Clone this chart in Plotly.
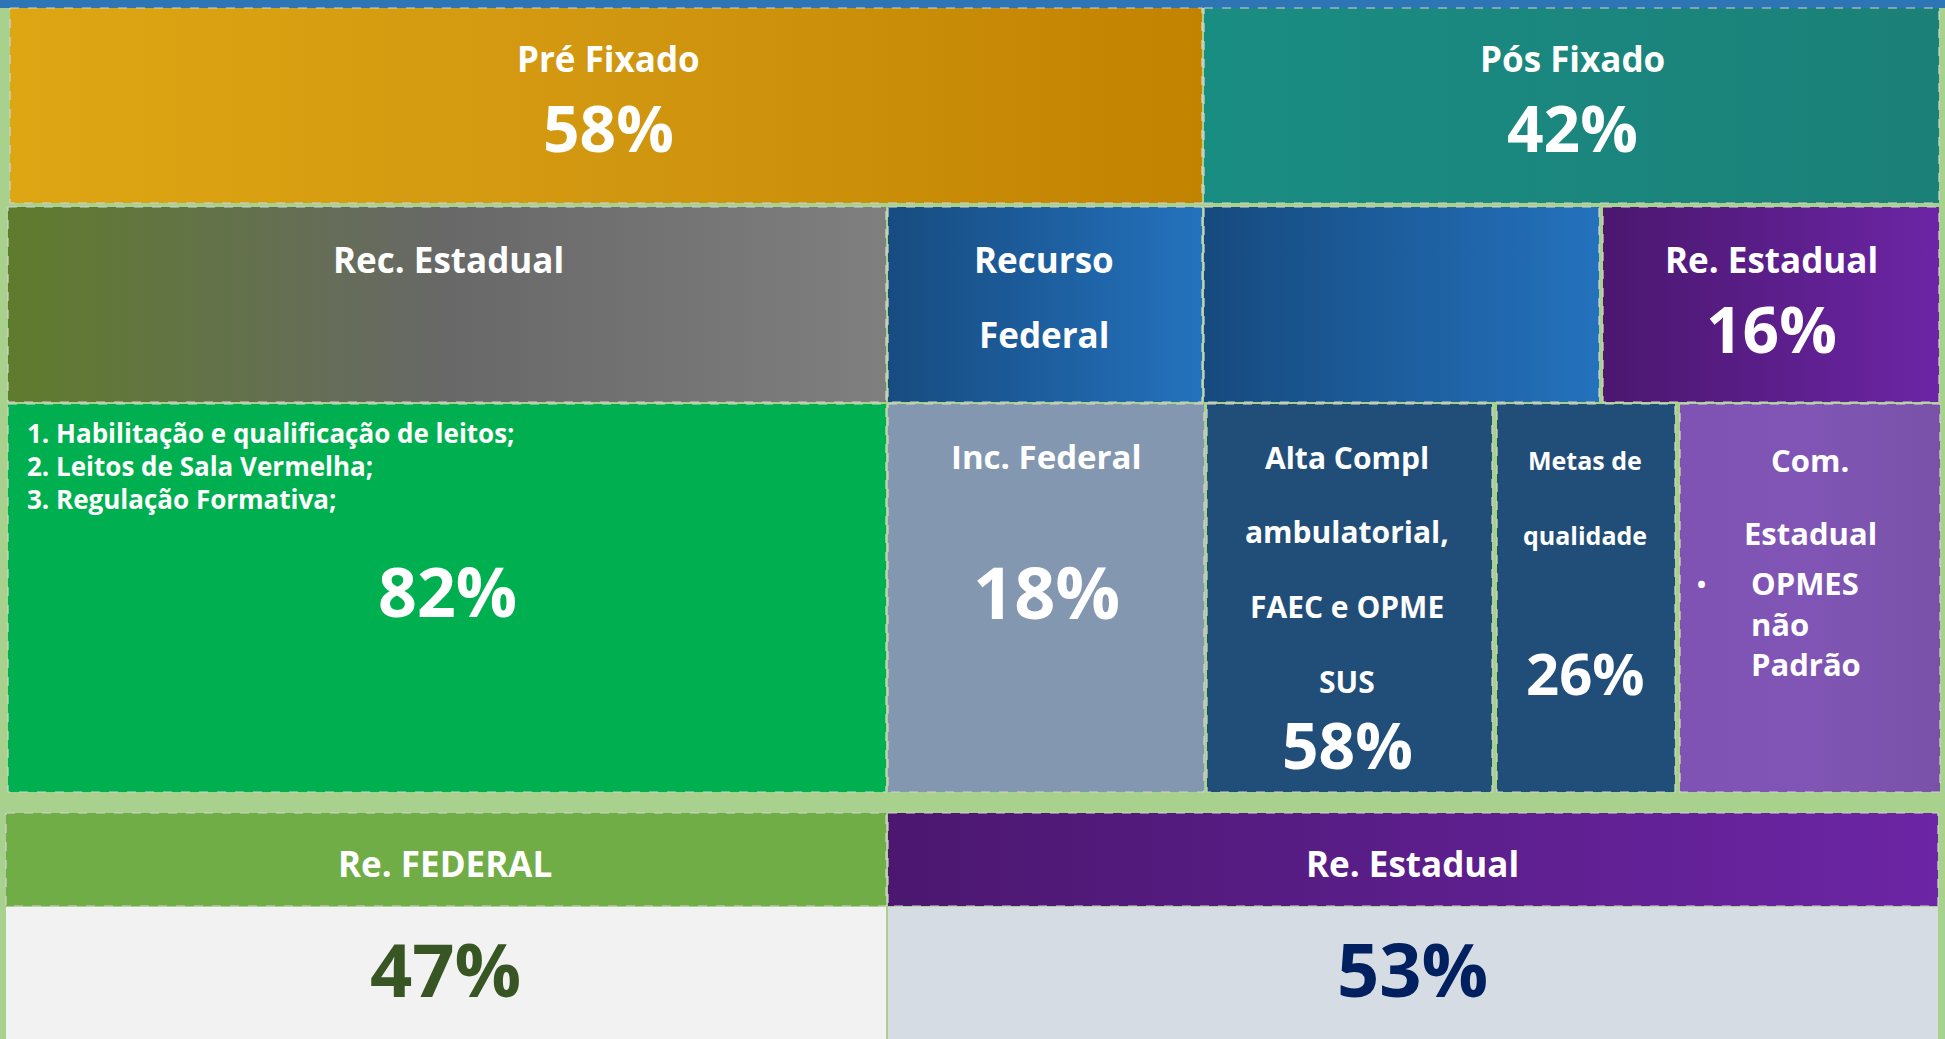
import plotly.graph_objects as go

# ---------------- data ----------------
top_labels = ["Pré Fixado", "Pós Fixado"]
top_values = ["58%", "42%"]

source_labels = ["Rec. Estadual", "Recurso\nFederal", "", "Re. Estadual"]
source_values = ["", "", "", "16%"]

detail_labels = ["", "Inc. Federal", "Alta Compl\nambulatorial,\nFAEC e OPME\nSUS",
                 "Metas de\nqualidade", "Com.\nEstadual"]
detail_values = ["82%", "18%", "58%", "26%", ""]

green_list = ["1. Habilitação e qualificação de leitos;",
              "2. Leitos de Sala Vermelha;",
              "3. Regulação Formativa;"]
opmes_item = ["OPMES", "não", "Padrão"]

summary_labels = ["Re. FEDERAL", "Re. Estadual"]
summary_values = ["47%", "53%"]

# ---------------- layout / style ----------------
W, H = 1945, 1039
FONT = "Open Sans"
BORDER = "#d4d4d4"

def hgrad(*cols):
    n = len(cols) - 1
    return dict(type="horizontal", colorscale=[[i / n, c] for i, c in enumerate(cols)])

# cell geometry: (x0, x1, y0, y1)
top_cells = [(10, 1202, 8, 203), (1204, 1939, 8, 203)]
top_fill = [hgrad("#dea613", "#d29710", "#c28300"), hgrad("#1a8d83", "#1b8078")]

src_cells = [(8, 886, 207, 402), (888, 1202, 207, 402), (1204, 1599, 207, 402), (1603, 1939, 207, 402)]
src_fill = [hgrad("#5f7b2c", "#686868", "#7f7f7f"),
            hgrad("#174c80", "#1d5e9e", "#2472bd"),
            hgrad("#164a7e", "#1d5e9e", "#2472bd"),
            hgrad("#4b176f", "#5b1e8a", "#6c25a5")]

det_cells = [(8, 886, 404, 792), (888, 1204, 404, 792), (1207, 1492, 404, 792),
             (1497, 1675, 404, 792), (1680, 1940, 404, 792)]
det_fill = ["#00b050", "#8497b0", "#214e78", "#214e78", hgrad("#7f53b3", "#8055b5", "#7952a8")]

sum_cells = [(6, 886, 813, 906), (888, 1938, 813, 906)]
sum_fill = ["#70ad47", hgrad("#4b176f", "#5b1e8a", "#6c25a5")]
body_cells = [(6, 886, 907, 1045), (888, 1938, 907, 1045)]
body_fill = ["#f2f2f2", "#d6dce4"]
body_text_color = ["#375623", "#002060"]

fig = go.Figure()

def add_box(cell, fill, dashed=True):
    x0, x1, y0, y1 = cell
    kw = dict(x=[x0, x1, x1, x0, x0], y=[y0, y0, y1, y1, y0], mode="lines",
              fill="toself", hoverinfo="skip", showlegend=False,
              line=dict(color=BORDER if dashed else "rgba(0,0,0,0)", width=1.2, dash="dash"))
    if isinstance(fill, dict):
        kw["fillgradient"] = fill
        kw["fillcolor"] = "rgba(0,0,0,0)"
    else:
        kw["fillcolor"] = fill
    fig.add_trace(go.Scatter(**kw))

# top blue strip
add_box((0, W, -2, 8), "#2e75b6", dashed=False)

for c, f in zip(top_cells, top_fill):
    add_box(c, f)
for c, f in zip(src_cells, src_fill):
    add_box(c, f)
for c, f in zip(det_cells, det_fill):
    add_box(c, f)
for c, f in zip(sum_cells, sum_fill):
    add_box(c, f)
for c, f in zip(body_cells, body_fill):
    add_box(c, f, dashed=False)

ann = []

def txt(x, y, s, size, color="white", anchor="center"):
    ann.append(dict(x=x, y=y, xref="x", yref="y", text="<b>" + s + "</b>", showarrow=False,
                    xanchor=anchor, yanchor="middle",
                    font=dict(family=FONT, size=size, color=color)))

# top row
top_cx = [608, 1572]
for i, (lab, val) in enumerate(zip(top_labels, top_values)):
    txt(top_cx[i], 58, lab, 35)
    txt(top_cx[i], 127, val, 64)

# source row
src_cx = [448, 1044, 1401, 1771]
src_line_y = [259, 334]
for i, (lab, val) in enumerate(zip(source_labels, source_values)):
    if lab:
        for j, line in enumerate(lab.split("\n")):
            txt(src_cx[i], src_line_y[j], line, 35)
    if val:
        txt(src_cx[i], 328, val, 64)

# detail row
list_y = [433, 466, 499]
for j, line in enumerate(green_list):
    txt(25, list_y[j], line, 26, anchor="left")

det_cx = [447, 1046, 1347, 1585, 1810]
det_line_y = [[], [456], [457, 531, 606, 681], [460, 535], [460, 533]]
det_size = [0, 33, 30, 25, 31]
det_val_y = [590, 591, 744, 672, 0]
det_val_size = [68, 72, 64, 58, 0]
for i, (lab, val) in enumerate(zip(detail_labels, detail_values)):
    if lab:
        for j, line in enumerate(lab.split("\n")):
            txt(det_cx[i], det_line_y[i][j], line, det_size[i])
    if val:
        txt(det_cx[i], det_val_y[i], val, det_val_size[i])

# OPMES bullet
txt(1701, 583, "•", 24)
opmes_y = [583, 624, 664]
for j, line in enumerate(opmes_item):
    txt(1749, opmes_y[j], line, 31, anchor="left")

# summary
sum_cx = [445, 1412]
for i, (lab, val) in enumerate(zip(summary_labels, summary_values)):
    txt(sum_cx[i], 863, lab, 35)
    txt(sum_cx[i], 968, val, 74, color=body_text_color[i])

fig.update_layout(
    width=W, height=H,
    margin=dict(l=0, r=0, t=0, b=0),
    paper_bgcolor="#a9d18e", plot_bgcolor="#a9d18e",
    xaxis=dict(range=[0, W], visible=False, fixedrange=True),
    yaxis=dict(range=[H, 0], visible=False, fixedrange=True),
    annotations=ann,
    hovermode=False,
)

fig.write_html("out.html", config={"displayModeBar": False})
